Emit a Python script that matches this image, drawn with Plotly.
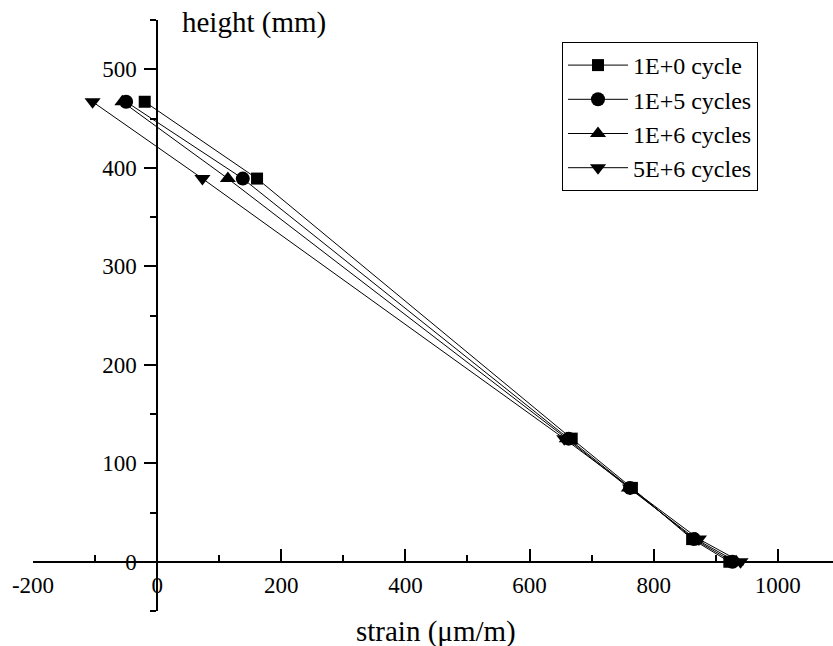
import plotly.graph_objects as go

# Measurement heights along the section (mm)
heights = [467, 389, 125, 75, 23, 0]

# Strain readings (µm/m) at each height after a number of load cycles
strain_1e0 = [-20, 161, 668, 765, 862, 922]
strain_1e5 = [-50, 138, 663, 762, 865, 927]
strain_1e6 = [-56, 114, 660, 760, 868, 933]
strain_5e6 = [-104, 73, 656, 762, 873, 940]

series_names = ["1E+0 cycle", "1E+5 cycles", "1E+6 cycles", "5E+6 cycles"]
series_values = [strain_1e0, strain_1e5, strain_1e6, strain_5e6]
series_symbols = ["square", "circle", "triangle-up", "triangle-down"]
series_sizes = [12, 14, 14, 14]

x_ticks = [-200, 0, 200, 400, 600, 800, 1000]
y_ticks = [0, 100, 200, 300, 400, 500]

x_range = [-200, 1089]
y_range = [-50, 550]

FONT = "Times New Roman"

fig = go.Figure()
for name, vals, sym, size in zip(series_names, series_values, series_symbols, series_sizes):
    fig.add_trace(go.Scatter(
        x=vals, y=heights, name=name, mode="lines+markers",
        line=dict(color="black", width=1),
        marker=dict(symbol=sym, size=size, color="black"),
    ))

# Axes cross at the origin
x_pos = (0 - y_range[0]) / (y_range[1] - y_range[0])
y_pos = (0 - x_range[0]) / (x_range[1] - x_range[0])

fig.update_layout(
    width=833, height=646,
    margin=dict(l=33, r=0, t=20, b=35),
    paper_bgcolor="white", plot_bgcolor="white",
    font=dict(family=FONT, size=23, color="black"),
    showlegend=True,
    legend=dict(
        x=(562 - 33) / 800, y=(611 - 42) / 591,
        xanchor="left", yanchor="top",
        bordercolor="black", borderwidth=1,
        bgcolor="white",
        font=dict(family=FONT, size=24, color="black"),
        itemwidth=60, tracegroupgap=0,
    ),
    xaxis=dict(
        range=x_range, anchor="free", position=x_pos,
        showgrid=False, zeroline=False,
        showline=True, linecolor="black", linewidth=1.5,
        ticks="inside", ticklen=12, tickwidth=1.5, tickcolor="black",
        tickvals=x_ticks, ticktext=[str(v) for v in x_ticks],
        minor=dict(ticks="inside", ticklen=6, tickwidth=1.5, tickcolor="black",
                   dtick=100, showgrid=False),
        tickfont=dict(family=FONT, size=23),
        ticklabelstandoff=3,
    ),
    yaxis=dict(
        range=y_range, anchor="free", position=y_pos,
        showgrid=False, zeroline=False,
        showline=True, linecolor="black", linewidth=1.5,
        ticks="outside", ticklen=12, tickwidth=1.5, tickcolor="black",
        tickvals=y_ticks, ticktext=[str(v) for v in y_ticks],
        minor=dict(ticks="outside", ticklen=6, tickwidth=1.5, tickcolor="black",
                   dtick=50, showgrid=False),
        tickfont=dict(family=FONT, size=23),
        ticklabelstandoff=3,
    ),
)

fig.add_annotation(
    text="height (mm)", xref="paper", yref="paper",
    x=(180 - 33) / 800, y=(611 - 22) / 591,
    xanchor="left", yanchor="middle", showarrow=False,
    font=dict(family=FONT, size=29, color="black"),
)
fig.add_annotation(
    text="strain (μm/m)", xref="paper", yref="paper",
    x=(436 - 33) / 800, y=(611 - 631) / 591,
    xanchor="center", yanchor="middle", showarrow=False,
    font=dict(family=FONT, size=29, color="black"),
)

fig.write_html("out.html")
